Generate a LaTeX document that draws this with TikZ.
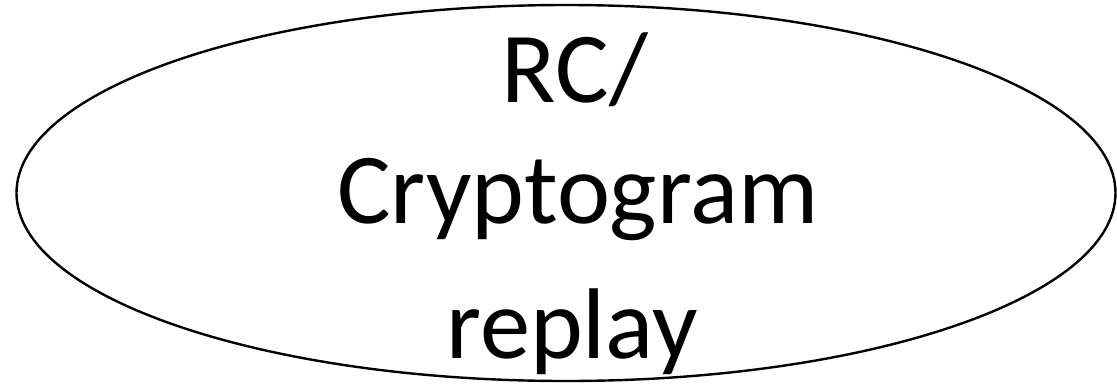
\documentclass[tikz,border=0pt]{standalone}
\usepackage{fontspec}
\setmainfont{Carlito}
\usetikzlibrary{shapes.geometric}
\begin{document}
\begin{tikzpicture}[x=1pt,y=-1pt,
  bubble/.style={draw=black,line width=2.4pt,ellipse,inner sep=0pt,minimum width=1099pt,minimum height=376pt},
  label/.style={anchor=base,inner sep=0pt,font=\fontsize{100.5}{110}\selectfont}]
\useasboundingbox (0,0) rectangle (1117,386);
\node[bubble] (e) at (566,193) {};
\node[label] (l1) at (575,102) {RC/};
\node[label] (l2) at (578,223) {Cryptogram};
\node[label] (l3) at (572,358) {replay};
\end{tikzpicture}
\end{document}
